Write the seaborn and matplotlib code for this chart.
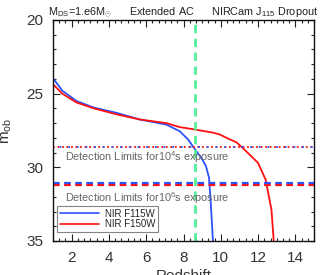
import matplotlib
matplotlib.use("Agg")
import matplotlib.pyplot as plt
import numpy as np
import pandas as pd
import seaborn as sns
from matplotlib.ticker import MultipleLocator

z_f115 = [1.0, 1.5, 2.26, 3.2, 4.4, 5.65, 7.08, 7.8, 8.24, 8.6, 8.96, 9.2, 9.37, 9.48, 9.58, 9.62]
m_f115 = [23.95, 24.8, 25.5, 25.95, 26.3, 26.75, 27.1, 27.55, 28.1, 28.75, 29.36, 29.9, 30.7, 32.8, 35.0, 36.0]
z_f150 = [1.0, 1.5, 2.26, 3.2, 4.4, 5.65, 7.08, 7.8, 8.6, 9.6, 9.94, 10.48, 10.84, 11.19, 12.0, 12.41, 12.72, 12.84, 12.9]
m_f150 = [24.36, 25.0, 25.6, 26.0, 26.4, 26.75, 27.0, 27.27, 27.43, 27.65, 27.77, 28.1, 28.3, 28.7, 29.7, 30.85, 32.9, 35.0, 36.0]

lim_1e4 = 28.65
lim_1e6_f115 = 31.07
lim_1e6_f150 = 31.2
z_dropout = 8.6

df = pd.concat([
    pd.DataFrame({"z": z_f115, "m": m_f115, "band": "NIR F115W"}),
    pd.DataFrame({"z": z_f150, "m": m_f150, "band": "NIR F150W"}),
])

sns.set_style("ticks")
plt.rcParams["font.family"] = ["Liberation Sans", "DejaVu Sans"]
plt.rcParams["mathtext.fontset"] = "custom"
plt.rcParams["mathtext.rm"] = "Liberation Sans"
plt.rcParams["mathtext.it"] = "Liberation Sans"

fig = plt.figure(figsize=(3.3, 2.75), dpi=100)
ax = fig.add_axes([53 / 330, 1 - 241 / 275, 261 / 330, 221 / 275])

blue = "#2a52ff"
red = "#ff1010"

sns.lineplot(data=df, x="z", y="m", hue="band", palette=[blue, red], sort=False,
             lw=1.3, ax=ax, legend=False)

# detection limits
ax.axhline(lim_1e4, color=red, lw=1.3, ls=(0, (1, 1.5)))
ax.axhline(lim_1e4, color=blue, lw=1.3, ls=(1.2, (1, 3.8)))
ax.axhline(lim_1e6_f150, color=red, lw=1.6, ls=(0, (3, 2)))
ax.axhline(lim_1e6_f115, color=blue, lw=1.6, ls=(0, (3, 2)))
ax.axvline(z_dropout, color="#55ee99", lw=2, ls=(0, (3, 2)))

ax.text(1.65, 29.3, "Detection Limits for10$^4$s exposure", fontsize=7.8,
        color="#666666", va="center")
ax.text(1.65, 32.1, "Detection Limits for10$^6$s exposure", fontsize=7.8,
        color="#666666", va="center")

h1, = ax.plot([], [], color=blue, lw=1.2, label="NIR F115W")
h2, = ax.plot([], [], color=red, lw=1.2, label="NIR F150W")
leg = ax.legend(handles=[h1, h2], loc="lower left", bbox_to_anchor=(0.015, 0.04),
                fontsize=7, frameon=True, fancybox=False, handlelength=4.0,
                borderpad=0.3, labelspacing=0.05, handletextpad=0.6,
                borderaxespad=0)
leg.get_frame().set_edgecolor("#666666")
leg.get_frame().set_linewidth(0.8)

ax.set_xlim(1, 15)
ax.set_ylim(35, 20)
ax.xaxis.set_major_locator(MultipleLocator(2))
ax.xaxis.set_minor_locator(MultipleLocator(1 / 3))
ax.yaxis.set_major_locator(MultipleLocator(5))
ax.yaxis.set_minor_locator(MultipleLocator(1))
ax.tick_params(which="both", direction="in", top=True, right=True, colors="#222222",
               labelcolor="#333333", labelsize=11, width=0.8)
ax.tick_params(which="major", length=5, pad=7)
ax.tick_params(which="minor", length=2.5)
for s in ax.spines.values():
    s.set_linewidth(1)
    s.set_color("#111111")

ax.set_xlabel("Redshift", fontsize=11, color="#333333", labelpad=3)
ax.set_ylabel("m$_{ob}$", fontsize=11, color="#333333", labelpad=9)
ax.set_title("M$_{DS}$=1.e6M$_{\\odot}$      Extended AC      NIRCam J$_{115}$ Dropout",
             fontsize=7.8, color="#222222", pad=3)

fig.savefig("out.png", dpi=100)
